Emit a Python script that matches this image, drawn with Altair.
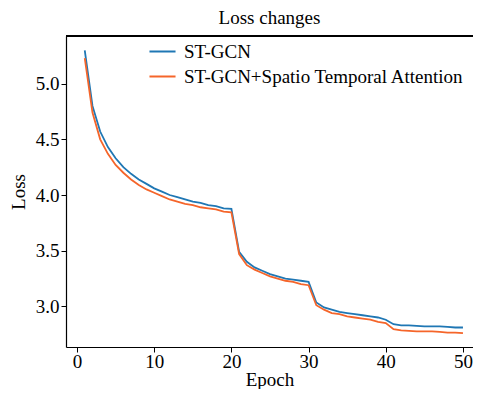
import altair as alt
import pandas as pd

epochs = list(range(1, 51))
st_gcn = [5.30, 4.80, 4.57, 4.43, 4.33, 4.25, 4.19, 4.14, 4.10, 4.06,
          4.03, 4.00, 3.98, 3.96, 3.94, 3.93, 3.91, 3.90, 3.88, 3.875,
          3.49, 3.40, 3.35, 3.32, 3.29, 3.27, 3.25, 3.24, 3.23, 3.22,
          3.035, 2.99, 2.97, 2.95, 2.94, 2.93, 2.92, 2.91, 2.90, 2.88,
          2.84, 2.83, 2.83, 2.825, 2.82, 2.82, 2.82, 2.815, 2.81, 2.81]
st_gcn_att = [5.23, 4.74, 4.50, 4.37, 4.27, 4.20, 4.14, 4.09, 4.05, 4.02,
              3.99, 3.96, 3.94, 3.92, 3.91, 3.89, 3.88, 3.87, 3.85, 3.845,
              3.47, 3.37, 3.33, 3.30, 3.27, 3.25, 3.23, 3.22, 3.20, 3.19,
              3.01, 2.97, 2.94, 2.93, 2.91, 2.90, 2.89, 2.88, 2.86, 2.85,
              2.795, 2.785, 2.78, 2.775, 2.775, 2.775, 2.77, 2.765, 2.765, 2.76]
series_names = ["ST-GCN", "ST-GCN+Spatio Temporal Attention"]
colors = ["#1f77b4", "#f5652a"]
x_ticks = [0, 10, 20, 30, 40, 50]
y_ticks = [3.0, 3.5, 4.0, 4.5, 5.0]

df = pd.DataFrame({
    "Epoch": epochs * 2,
    "Loss": st_gcn + st_gcn_att,
    "Model": [series_names[0]] * len(epochs) + [series_names[1]] * len(epochs),
})

FONT = "Liberation Serif"
W, H = 407, 311

lines = alt.Chart(df).mark_line(strokeWidth=1.8).encode(
    x=alt.X("Epoch:Q",
            scale=alt.Scale(domain=[-1.43, 51.3], nice=False, zero=False),
            axis=alt.Axis(values=x_ticks, format="d", grid=False, title="Epoch",
                          titleBaseline="alphabetic", titleY=38, labelPadding=0)),
    y=alt.Y("Loss:Q",
            scale=alt.Scale(domain=[2.635, 5.428], nice=False, zero=False),
            axis=alt.Axis(values=y_ticks, format=".1f", grid=False, title="Loss",
                          titlePadding=7)),
    color=alt.Color("Model:N",
                    scale=alt.Scale(domain=series_names, range=colors),
                    legend=alt.Legend(title=None, orient="none", legendX=82, legendY=1,
                                      symbolType="stroke", symbolSize=680,
                                      symbolStrokeWidth=2, labelFont=FONT,
                                      labelFontSize=19, labelColor="black",
                                      labelOffset=7, rowPadding=-4, padding=0,
                                      labelLimit=400)),
)

top_frame = alt.Chart(df).mark_rule(color="black", strokeWidth=1.2).encode(
    x=alt.value(0), x2=alt.value(W), y=alt.value(0)
)

chart = alt.layer(lines, top_frame).properties(
    width=W,
    height=H,
    title=alt.TitleParams("Loss changes", font=FONT, fontSize=19, fontWeight="normal",
                          color="black", offset=7),
    autosize=alt.AutoSizeParams(type="none"),
    padding={"left": 58, "top": 28, "right": 0, "bottom": 42},
).configure_view(
    strokeWidth=0
).configure_axis(
    labelFont=FONT, labelFontSize=19, labelColor="black",
    titleFont=FONT, titleFontSize=19, titleFontWeight="normal", titleColor="black",
    domainColor="black", domainWidth=1.2, tickColor="black", tickSize=5,
    tickWidth=1,
)

chart.save("out.html", embed_options={"renderer": "svg", "actions": False})
